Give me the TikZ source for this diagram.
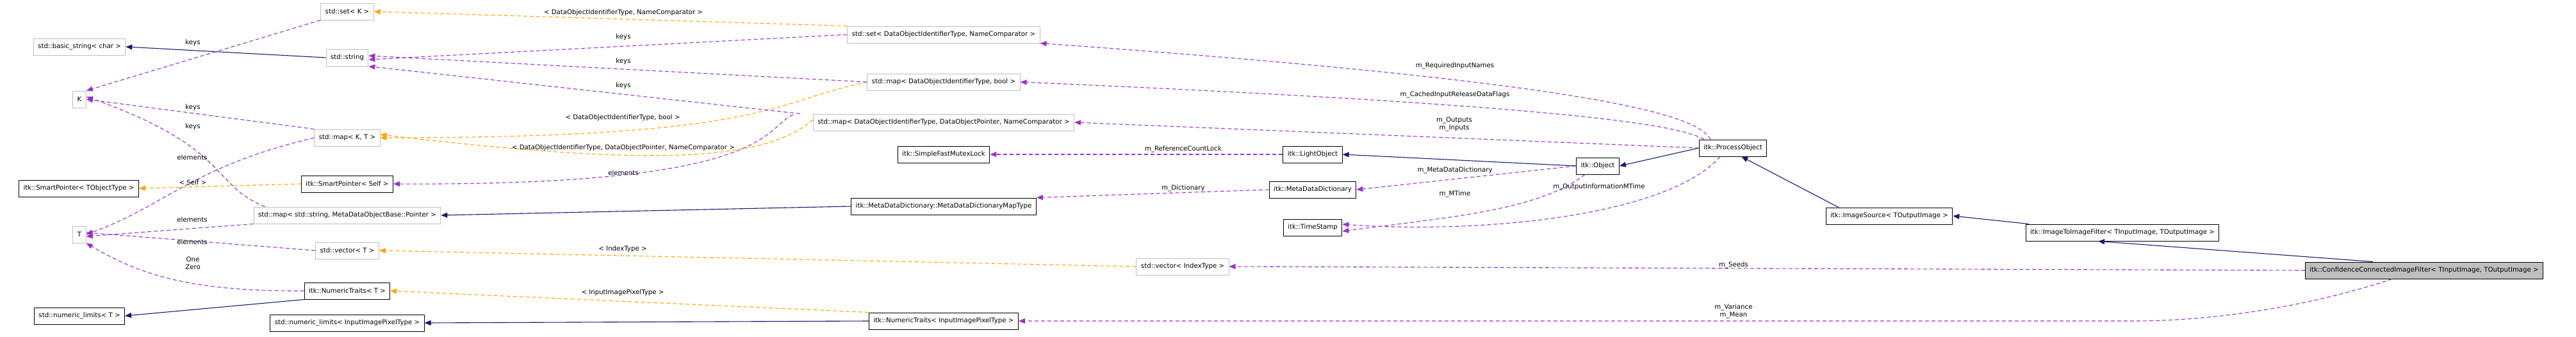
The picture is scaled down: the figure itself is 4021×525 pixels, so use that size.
\documentclass[tikz,border=0pt]{standalone}
\usepackage{fontspec}
\setmainfont{DejaVu Sans}
\usetikzlibrary{arrows.meta}
\definecolor{inh}{HTML}{191970}
\definecolor{use}{HTML}{9A32CD}
\definecolor{tpl}{HTML}{FFA500}
\definecolor{ext}{HTML}{BFBFBF}
\tikzset{
  cls/.style={draw, line width=1pt, fill=white, minimum height=26pt, inner xsep=7pt, font=\fontsize{10.2}{12}\selectfont},
  extcls/.style={cls, draw=ext},
  lbl/.style={font=\fontsize{10.2}{12}\selectfont, inner sep=1pt, align=center},
  inherit/.style={-{Triangle[length=10pt,width=8pt]}, draw=inh, line width=1.1pt},
  uses/.style={-{Triangle[length=10pt,width=8pt]}, draw=use, line width=1.1pt, dash pattern=on 6pt off 4pt},
  templ/.style={-{Triangle[length=10pt,width=8pt]}, draw=tpl, line width=1.1pt, dash pattern=on 6pt off 4pt}
}
\begin{document}
\begin{tikzpicture}[x=1pt, y=-1pt]

    \useasboundingbox (0,0) rectangle (4021,525);

    % Columna izquierda
    \node[extcls] (basicstr) at (124,73) {std::basic\_string< char >};
    \node[extcls] (K) at (124,155) {K};
    \node[cls] (sptobj) at (123,294) {itk::SmartPointer< TObjectType >};
    \node[extcls] (T) at (124,366) {T};
    \node[cls] (nlT) at (124,493) {std::numeric\_limits< T >};

    % Segunda columna
    \node[extcls] (setK) at (542,18) {std::set< K >};
    \node[extcls] (str) at (542,90) {std::string};
    \node[extcls] (mapKT) at (542,215) {std::map< K, T >};
    \node[cls] (spself) at (542,287) {itk::SmartPointer< Self >};
    \node[extcls] (mapmeta) at (542,336) {std::map< std::string, MetaDataObjectBase::Pointer >};
    \node[extcls] (vecT) at (542,391) {std::vector< T >};
    \node[cls] (ntT) at (542,454) {itk::NumericTraits< T >};
    \node[cls] (nlin) at (542,504) {std::numeric\_limits< InputImagePixelType >};

    % Tercera columna
    \node[extcls] (setdoi) at (1473,54) {std::set< DataObjectIdentifierType, NameComparator >};
    \node[extcls] (mapbool) at (1473,128) {std::map< DataObjectIdentifierType, bool >};
    \node[extcls] (mapptr) at (1473,191) {std::map< DataObjectIdentifierType, DataObjectPointer, NameComparator >};
    \node[cls] (mutex) at (1473,241) {itk::SimpleFastMutexLock};
    \node[cls] (mddmap) at (1473,322) {itk::MetaDataDictionary::MetaDataDictionaryMapType};
    \node[cls] (ntin) at (1473,501) {itk::NumericTraits< InputImagePixelType >};
    \node[extcls] (vecidx) at (1846,416) {std::vector< IndexType >};

    % Objetos itk
    \node[cls] (light) at (2049,241) {itk::LightObject};
    \node[cls] (mdd) at (2049,296) {itk::MetaDataDictionary};
    \node[cls] (tstamp) at (2049,355) {itk::TimeStamp};
    \node[cls] (object) at (2494,259) {itk::Object};
    \node[cls] (process) at (2705,231) {itk::ProcessObject};
    \node[cls] (source) at (2949,337) {itk::ImageSource< TOutputImage >};
    \node[cls] (i2i) at (3313,363) {itk::ImageToImageFilter< TInputImage, TOutputImage >};
    \node[cls, fill=ext] (ccif) at (3784,422) {itk::ConfidenceConnectedImageFilter< TInputImage, TOutputImage >};

    \coordinate (ptrbend) at (1238,179);
    \coordinate (meanbend) at (3330,501);

    % Herencia
    \draw[inherit] (str.west) -- (basicstr.east);
    \draw[inherit] (mddmap.west) -- (mapmeta.east);
    \draw[inherit] (ntT.south west) -- (nlT.east);
    \draw[inherit] (ntin.west) -- (nlin.east);
    \draw[inherit] (object.west) -- (light.east);
    \draw[inherit] (process.west) -- (object.east);
    \draw[inherit] ([xshift=20pt]source.north west) -- ([xshift=-40pt]process.south east);
    \draw[inherit] ([xshift=5pt]i2i.north west) -- (source.east);
    \draw[inherit] ([xshift=-80pt]ccif.north) -- ([xshift=-38pt]i2i.south);

    % Plantillas
    \draw[templ] (setdoi.north west) -- (setK.east);
    \draw[templ] (mapbool.west) .. controls (1200,160) and (1200,215) .. (mapKT.east);
    \draw[templ] ([yshift=4pt]mapptr.west) .. controls (1190,255) and (1000,258) .. ([yshift=5pt]mapKT.east);
    \draw[templ] (spself.west) -- (sptobj.east);
    \draw[templ] (vecidx.west) -- (vecT.east);
    \draw[templ] (ntin.north west) -- (ntT.east);

    % Usos
    \draw[uses] (setK.south west) -- (K.north east);
    \draw[uses] (mapKT.north west) -- (K.east);
    \draw[uses] ([xshift=18pt]mapmeta.north west) .. controls (330,290) and (360,230) .. ([yshift=4pt]K.east);
    \draw[uses] (mapKT.west) .. controls (300,260) and (260,320) .. (T.east);
    \draw[uses] (mapmeta.south west) -- ([yshift=-3pt]T.east);
    \draw[uses] (vecT.west) -- ([yshift=3pt]T.east);
    \draw[uses] (ntT.west) .. controls (300,455) and (220,430) .. (T.south east);
    \draw[uses] (setdoi.west) -- ([yshift=-3pt]str.east);
    \draw[uses] (mapbool.west) -- ([yshift=3pt]str.east);
    \draw[uses] ([xshift=-20pt]mapptr.north west) -- (str.south east);
    \draw[uses] (ptrbend) .. controls (1190,200) and (1210,290) .. (spself.east);
    \draw[uses] ([xshift=-35pt]process.north) .. controls (2650,180) and (2500,130) .. (setdoi.south east);
    \draw[uses] ([xshift=-45pt]process.north) .. controls (2620,195) and (2450,165) .. (mapbool.east);
    \draw[uses] (process.west) -- (mapptr.east);
    \draw[uses] (light.west) -- (mutex.east);
    \draw[uses] (mdd.west) -- (mddmap.north east);
    \draw[uses] (object.west) -- (mdd.east);
    \draw[uses] ([xshift=-20pt]object.south) .. controls (2400,330) and (2250,340) .. ([yshift=-6pt]tstamp.east);
    \draw[uses] ([xshift=-20pt]process.south) .. controls (2600,340) and (2300,365) .. ([yshift=5pt]tstamp.east);
    \draw[uses] (ccif.west) -- (vecidx.east);
    \draw[uses] ([xshift=-50pt]ccif.south) .. controls (3600,480) and (3450,501) .. (meanbend) -- (ntin.east);

    % Etiquetas
    \node[lbl] (l1) at (301,67) {keys};
    \node[lbl] (l2) at (301,168) {keys};
    \node[lbl] (l3) at (301,198) {keys};
    \node[lbl] (l4) at (300,246) {elements};
    \node[lbl] (l5) at (301,285) {< Self >};
    \node[lbl] (l6) at (300,343) {elements};
    \node[lbl] (l7) at (300,378) {elements};
    \node[lbl] (l8) at (301,411) {One\\Zero};
    \node[lbl] (l9) at (973,20) {< DataObjectIdentifierType, NameComparator >};
    \node[lbl] (l10) at (973,58) {keys};
    \node[lbl] (l11) at (973,96) {keys};
    \node[lbl] (l12) at (973,134) {keys};
    \node[lbl] (l13) at (972,184) {< DataObjectIdentifierType, bool >};
    \node[lbl] (l14) at (973,231) {< DataObjectIdentifierType, DataObjectPointer, NameComparator >};
    \node[lbl] (l15) at (973,270) {elements};
    \node[lbl] (l16) at (972,389) {< IndexType >};
    \node[lbl] (l17) at (972,457) {< InputImagePixelType >};
    \node[lbl] (l18) at (1847,233) {m\_ReferenceCountLock};
    \node[lbl] (l19) at (1847,294) {m\_Dictionary};
    \node[lbl] (l20) at (2271,103) {m\_RequiredInputNames};
    \node[lbl] (l21) at (2271,148) {m\_CachedInputReleaseDataFlags};
    \node[lbl] (l22) at (2270,194) {m\_Outputs\\m\_Inputs};
    \node[lbl] (l23) at (2271,266) {m\_MetaDataDictionary};
    \node[lbl] (l24) at (2271,303) {m\_MTime};
    \node[lbl] (l25) at (2496,292) {m\_OutputInformationMTime};
    \node[lbl] (l26) at (2706,414) {m\_Seeds};
    \node[lbl] (l27) at (2706,486) {m\_Variance\\m\_Mean};

\end{tikzpicture}
\end{document}
